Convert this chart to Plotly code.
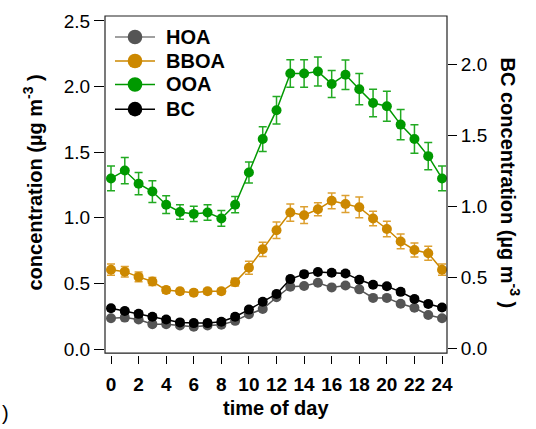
import plotly.graph_objects as go

hours = list(range(25))
HOA = [0.235,0.24,0.225,0.19,0.19,0.18,0.17,0.18,0.185,0.215,0.265,0.305,0.395,0.475,0.48,0.505,0.47,0.485,0.455,0.39,0.39,0.345,0.315,0.26,0.235]
HOA_err = [0.015]*25
BBOA = [0.605,0.59,0.55,0.515,0.45,0.44,0.43,0.44,0.44,0.51,0.62,0.76,0.905,1.04,1.02,1.065,1.13,1.105,1.08,0.995,0.915,0.82,0.755,0.73,0.605]
BBOA_err = [0.043,0.04,0.037,0.03,0.025,0.022,0.022,0.022,0.022,0.03,0.05,0.054,0.063,0.066,0.064,0.049,0.06,0.065,0.079,0.056,0.059,0.056,0.054,0.053,0.043]
OOA = [1.30,1.36,1.26,1.20,1.10,1.045,1.03,1.04,0.995,1.10,1.345,1.60,1.82,2.10,2.10,2.115,2.02,2.09,1.98,1.875,1.85,1.71,1.60,1.47,1.30]
OOA_err = [0.094,0.10,0.085,0.083,0.068,0.055,0.058,0.059,0.06,0.062,0.08,0.094,0.105,0.105,0.105,0.11,0.103,0.113,0.119,0.105,0.115,0.115,0.109,0.103,0.094]
BC = [0.285,0.265,0.245,0.225,0.205,0.185,0.18,0.18,0.19,0.225,0.275,0.33,0.385,0.49,0.525,0.54,0.535,0.53,0.485,0.45,0.44,0.40,0.35,0.315,0.29]
BC_err = [0.018]*25

x_ticks = list(range(0, 25, 2))
left_ticks = [0.0, 0.5, 1.0, 1.5, 2.0, 2.5]
right_ticks = [0.0, 0.5, 1.0, 1.5, 2.0]

FONT = "Liberation Sans, Arial, sans-serif"

series = [
    ("HOA", HOA, HOA_err, "#555555", "#808080", "#777777", "y"),
    ("BBOA", BBOA, BBOA_err, "#cc8800", "#cc8800", "#dda030", "y"),
    ("OOA", OOA, OOA_err, "#009900", "#009900", "#22aa22", "y"),
    ("BC", BC, BC_err, "#000000", "#000000", "#000000", "y2"),
]

# pixel -> paper helpers (plot area: x 105..447, y 11..355)
def px(x):
    return (x - 105) / 342
def py(y):
    return (355 - y) / 344

fig = go.Figure()
for name, vals, err, mc, lc, ec, ax in series:
    fig.add_trace(go.Scatter(
        x=hours, y=vals, yaxis=ax, mode="lines+markers", showlegend=False, name=name,
        line=dict(color=mc, width=1.5),
        marker=dict(color=mc, size=10),
        error_y=dict(type="data", array=err, visible=True, color=ec, thickness=1.5, width=4),
    ))

shapes = [dict(type="rect", xref="x domain", yref="y domain", x0=0, x1=1, y0=0, y1=1,
               line=dict(color="#222222", width=1.2))]
annotations = []

# manual legend
legend_rows = [32.3, 56.7, 80.5, 105.5]
for (name, vals, err, mc, lc, ec, ax), ry in zip(series, legend_rows):
    shapes.append(dict(type="line", xref="paper", yref="paper",
                       x0=px(115), x1=px(155), y0=py(ry), y1=py(ry),
                       line=dict(color=lc, width=1.5)))
    shapes.append(dict(type="circle", xref="paper", yref="paper",
                       xsizemode="pixel", ysizemode="pixel",
                       xanchor=px(135), yanchor=py(ry),
                       x0=-7.3, x1=7.3, y0=-7.3, y1=7.3,
                       fillcolor=mc, line=dict(color=mc, width=0)))
    annotations.append(dict(text="<b>%s</b>" % name, xref="paper", yref="paper",
                            x=px(164), y=py(ry), showarrow=False, xanchor="left", yanchor="middle",
                            font=dict(family=FONT, size=20)))

annotations += [
    dict(text="<b>time of day</b>", xref="paper", yref="paper",
         x=px(276), y=py(409), showarrow=False,
         font=dict(family=FONT, size=20), xanchor="center", yanchor="middle"),
    dict(text="<b>concentration (µg m<sup>-3</sup> )</b>", xref="paper", yref="paper",
         x=px(33), y=py(180), showarrow=False, textangle=-90,
         font=dict(family=FONT, size=20), xanchor="center", yanchor="middle"),
    dict(text="<b>BC concentration (µg m<sup>-3</sup> )</b>", xref="paper", yref="paper",
         x=px(510), y=py(181), showarrow=False, textangle=90,
         font=dict(family=FONT, size=20), xanchor="center", yanchor="middle"),
    dict(text=")", xref="paper", yref="paper",
         x=px(5), y=py(414), showarrow=False,
         font=dict(family=FONT, size=20), xanchor="center", yanchor="middle"),
]

fig.update_layout(
    width=536, height=429,
    margin=dict(l=105, r=89, t=11, b=74),
    paper_bgcolor="white", plot_bgcolor="white",
    font=dict(family=FONT, color="black", size=19),
    showlegend=False,
    xaxis=dict(range=[-0.435, 24.36], anchor="free", position=0,
               tickvals=x_ticks, ticks="outside", ticklen=8, tickwidth=1.2, tickcolor="black",
               showline=False, showgrid=False, zeroline=False, ticklabelstandoff=4,
               tickfont=dict(family=FONT, size=19, weight="bold")),
    yaxis=dict(range=[-0.030, 2.5375], domain=[2/344, 1],
               tickvals=left_ticks, tickformat=".1f", ticks="outside", ticklen=10,
               tickwidth=1.2, tickcolor="black", showline=False, showgrid=False, zeroline=False,
               tickfont=dict(family=FONT, size=19)),
    yaxis2=dict(range=[-0.031, 2.344], overlaying="y", side="right", anchor="x",
                tickvals=right_ticks, tickformat=".1f", ticks="outside", ticklen=9,
                tickwidth=1.2, tickcolor="black", showline=False, showgrid=False, zeroline=False,
                tickfont=dict(family=FONT, size=19)),
    shapes=shapes,
    annotations=annotations,
)

fig.write_html("out.html")
